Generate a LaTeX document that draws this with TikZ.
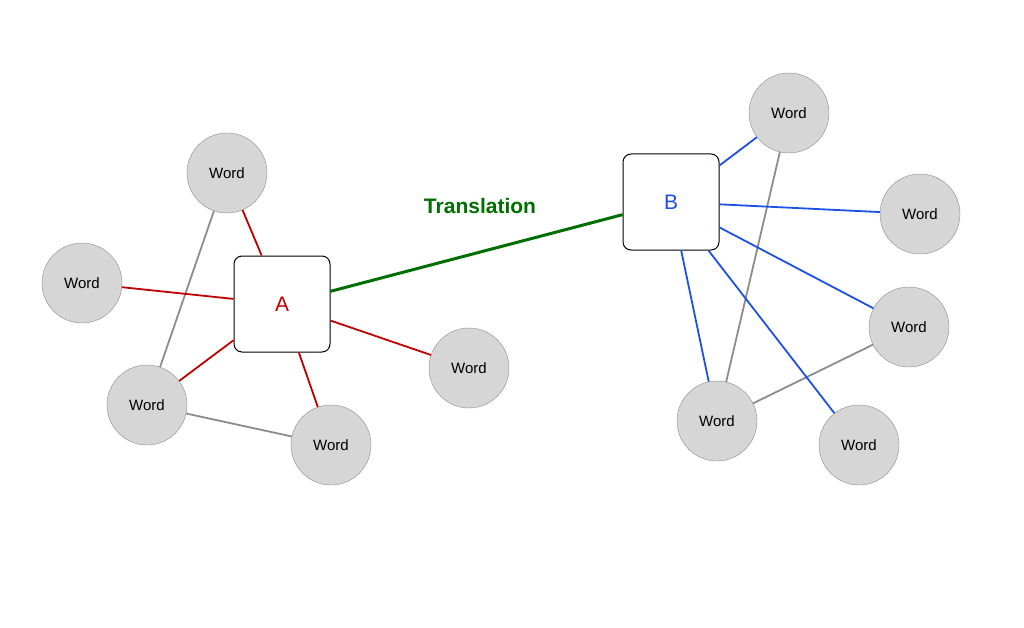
\documentclass[tikz,border=0pt]{standalone}
\usepackage{fontspec}
\setmainfont{Liberation Sans}
\begin{document}
\begin{tikzpicture}[x=1pt,y=-1pt,
  word/.style={circle,draw=black!45,fill=black!16,minimum size=80pt,inner sep=0pt,font=\fontsize{15}{15}\selectfont},
  hub/.style={draw=black,fill=white,rounded corners=8pt,minimum size=96pt,line width=1pt,font=\fontsize{21}{21}\selectfont},
  redl/.style={draw={rgb,255:red,192;green,0;blue,0},line width=1.8pt},
  bluel/.style={draw={rgb,255:red,30;green,80;blue,230},line width=1.8pt},
  grayl/.style={draw=black!45,line width=1.8pt}]
\useasboundingbox (0,0) rectangle (1024,628);
\node[word] (w1) at (227,173) {Word};
\node[word] (w2) at (82,283) {Word};
\node[word] (w3) at (147,405) {Word};
\node[word] (w4) at (331,445) {Word};
\node[word] (w5) at (469,368) {Word};
\node[word] (r1) at (789,113) {Word};
\node[word] (r2) at (920,214) {Word};
\node[word] (r3) at (909,327) {Word};
\node[word] (r4) at (717,421) {Word};
\node[word] (r5) at (859,445) {Word};
\node[hub,text={rgb,255:red,192;green,0;blue,0}] (A) at (282,304) {A};
\node[hub,text={rgb,255:red,30;green,80;blue,230}] (B) at (671,202) {B};
\draw[grayl] (w1) -- (w3);
\draw[grayl] (w3) -- (w4);
\draw[grayl] (r1) -- (r4);
\draw[grayl] (r3) -- (r4);
\foreach \n in {w1,w2,w3,w4,w5} \draw[redl] (A) -- (\n);
\foreach \n in {r1,r2,r3,r4,r5} \draw[bluel] (B) -- (\n);
\draw[line width=3pt,draw={rgb,255:red,0;green,110;blue,0}] (A) -- (B);
\node[font=\bfseries\fontsize{21}{21}\selectfont,text={rgb,255:red,0;green,110;blue,0}] (t) at (480,206) {Translation};
\end{tikzpicture}
\end{document}
